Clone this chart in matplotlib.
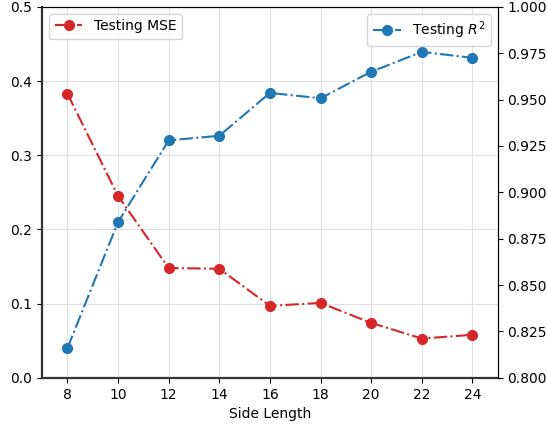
import matplotlib
matplotlib.use("Agg")
import matplotlib.pyplot as plt

# Data
side_length = [8, 10, 12, 14, 16, 18, 20, 22, 24]
test_mse = [0.383, 0.245, 0.148, 0.147, 0.097, 0.101, 0.074, 0.053, 0.058]
test_r2 = [0.816, 0.884, 0.928, 0.9305, 0.9536, 0.9507, 0.965, 0.9757, 0.9725]

fig, ax1 = plt.subplots(figsize=(5.47, 4.26), dpi=100)
ax2 = ax1.twinx()

ax1.plot(side_length, test_mse, linestyle='-.', marker='o', markersize=7,
         color='tab:red', label='Testing MSE')
ax2.plot(side_length, test_r2, linestyle='-.', marker='o', markersize=7,
         color='tab:blue', label='Testing $R^2$')

ax1.set_xlim(7, 25)
ax1.set_ylim(0, 0.5)
ax2.set_ylim(0.8, 1.0)
ax1.set_xticks(side_length)
ax1.set_xlabel('Side Length')
ax1.grid(True, color='#e0e0e0', linewidth=0.8)

for s in ['left', 'bottom']:
    ax1.spines[s].set_linewidth(1.6)
    ax1.spines[s].set_color('#333333')
    ax2.spines[s].set_visible(False)

ax1.legend(loc='upper left')
ax2.legend(loc='upper right')

fig.subplots_adjust(left=0.077, right=0.910, top=0.984, bottom=0.113)
plt.savefig('out.png')
